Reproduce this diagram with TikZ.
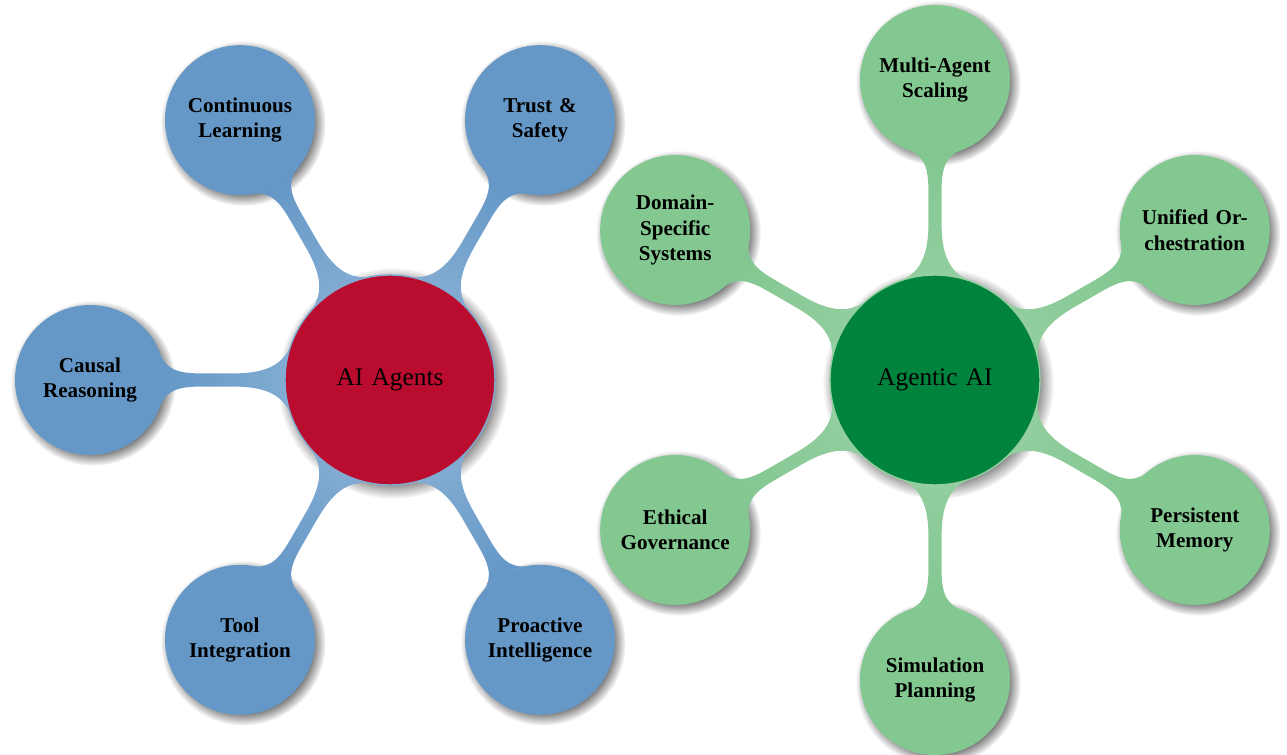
\documentclass[tikz,border=0pt,12pt]{standalone}
\usepackage{fontspec}
\setmainfont{Liberation Serif}
\usepackage{xcolor}
\usetikzlibrary{mindmap,shadows}

\definecolor{agentblue}{RGB}{101,152,199}
\definecolor{agentred}{RGB}{186,12,47}
\definecolor{agenticgreen}{RGB}{0,132,61}
\definecolor{leafgreen}{RGB}{131,199,145}

\tikzset{
  hub/.style={circle, minimum size=4.2cm, inner sep=0pt, text width=3cm, align=center, font=\large, text=black, line width=0.8pt, circular drop shadow},
  leaf/.style={circle, minimum size=3cm, inner sep=0pt, text width=2.4cm, align=center, font=\bfseries, text=black, circular drop shadow},
  bluebar/.style={line width=8.5pt, circle connection bar switch color=from (agentblue!82!white) to (agentblue)},
  greenbar/.style={line width=8.5pt, circle connection bar switch color=from (leafgreen!88!white) to (leafgreen)}
}

\begin{document}
\begin{tikzpicture}[mindmap]
\useasboundingbox (0,0) rectangle (25.74,15.1);

% AI Agents
\begin{scope}[shift={(7.8,7.5)}]
\node[hub, fill=agentred, draw=agentblue!82!white] (agents) at (0,0) {AI Agents};
\node[leaf, fill=agentblue] (learning) at (120:6) {Continuous\\Learning};
\node[leaf, fill=agentblue] (trust) at (60:6) {Trust \&\\Safety};
\node[leaf, fill=agentblue] (causal) at (180:6) {Causal\\Reasoning};
\node[leaf, fill=agentblue] (tools) at (240:6) {Tool\\Integration};
\node[leaf, fill=agentblue] (proactive) at (300:6) {Proactive\\Intelligence};
\end{scope}

% Agentic AI
\begin{scope}[shift={(18.7,7.5)}]
\node[hub, fill=agenticgreen, draw=leafgreen!88!white] (agentic) at (0,0) {Agentic AI};
\node[leaf, fill=leafgreen] (scaling) at (90:6) {Multi-Agent\\Scaling};
\node[leaf, fill=leafgreen] (orchestration) at (30:6) {Unified Or-\\chestration};
\node[leaf, fill=leafgreen] (memory) at (-30:6) {Persistent\\Memory};
\node[leaf, fill=leafgreen] (planning) at (-90:6) {Simulation\\Planning};
\node[leaf, fill=leafgreen] (ethics) at (210:6) {Ethical\\Governance};
\node[leaf, fill=leafgreen] (domain) at (150:6) {Domain-\\Specific\\Systems};
\end{scope}

% Connection bars
\foreach \leafname in {learning,trust,causal,tools,proactive}
  \path (agents) to[bluebar] (\leafname);
\foreach \leafname in {scaling,orchestration,memory,planning,ethics,domain}
  \path (agentic) to[greenbar] (\leafname);
\end{tikzpicture}
\end{document}
